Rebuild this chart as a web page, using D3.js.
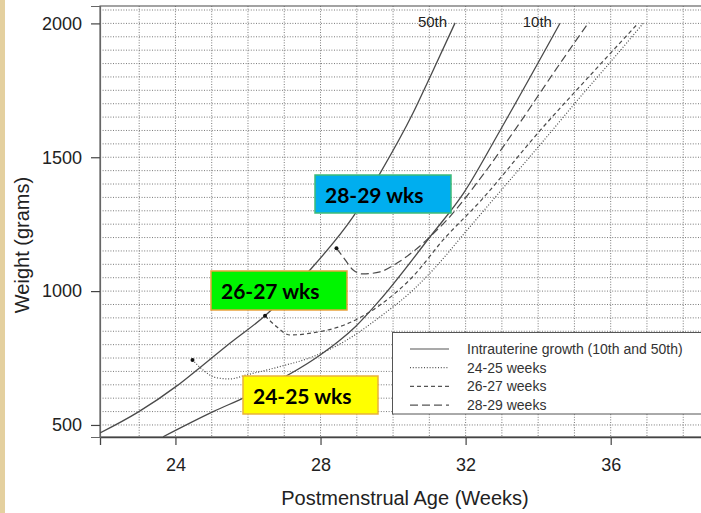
<!DOCTYPE html>
<html><head><meta charset="utf-8">
<script src="https://cdn.jsdelivr.net/npm/d3@7"></script>
<style>body{margin:0;background:#fff;overflow:hidden}</style>
</head><body>
<svg id="c" width="701" height="513"></svg>
<script>
// ---- data ----
const xTickValues = [24, 28, 32, 36];
const yTickValues = [500, 1000, 1500, 2000];
const p50Weeks = [21.92, 22.97, 24.03, 24.68, 25.50, 26.47, 27.71, 28.90, 29.64, 30.55, 31.02, 31.71];
const p50Grams = [470, 548, 645, 715, 805, 908, 1079, 1278, 1440, 1665, 1800, 2002];
const p10Weeks = [23.66, 25.04, 25.96, 27.99, 28.54, 28.96, 29.64, 31.02, 31.94, 32.95, 34.60];
const p10Grams = [456, 550, 606, 761, 817, 867, 967, 1203, 1365, 1600, 2000];
const w2425Weeks = [24.47, 24.76, 25.14, 25.50, 25.96, 26.88, 27.79, 28.72, 29.64, 30.55, 31.10, 32.03, 33.14, 34.15, 35.16, 35.99, 36.90];
const w2425Grams = [743, 705, 676, 672, 687, 718, 755, 817, 904, 1004, 1079, 1226, 1402, 1562, 1725, 1855, 2001];
const w2627Weeks = [26.47, 26.79, 27.16, 27.79, 28.72, 29.64, 30.55, 31.38, 32.40, 34.06, 35.44, 36.76];
const w2627Grams = [908, 867, 836, 844, 877, 948, 1055, 1191, 1335, 1601, 1807, 2001];
const w2829Weeks = [28.44, 28.62, 28.90, 29.17, 29.64, 30.10, 30.55, 31.02, 31.48, 32.40, 33.45, 34.50, 35.40];
const w2829Grams = [1160, 1128, 1079, 1064, 1072, 1104, 1147, 1203, 1265, 1420, 1620, 1830, 2005];
const legendLabels = ["Intrauterine growth (10th and 50th)", "24-25 weeks", "26-27 weeks", "28-29 weeks"];
const boxLabels = ["28-29 wks", "26-27 wks", "24-25 wks"];

// ---- layout ----
const svg = d3.select("#c");
const L = 100, R = 705, T = 6, B = 437;
const x = d3.scaleLinear().domain([21.92, 38.6]).range([L, R]);
const y = d3.scaleLinear().domain([455, 2065]).range([B, T]);

svg.append("rect").attr("x", 0).attr("y", 0).attr("width", 5).attr("height", 513).attr("fill", "#e4d09f");

svg.append("defs").append("clipPath").attr("id", "clip")
  .append("rect").attr("x", L).attr("y", T).attr("width", R - L).attr("height", B - T);

// grid
const vgrid = d3.range(23, 39);
const hgrid = d3.range(500, 2051, 50);
const grid = svg.append("g").attr("stroke", "#6a6a6a").attr("stroke-width", 0.9).attr("stroke-dasharray", "1,1.6");
grid.selectAll("line.v").data(vgrid).join("line").attr("class", "v")
  .attr("x1", d => x(d)).attr("x2", d => x(d)).attr("y1", T).attr("y2", B);
grid.selectAll("line.h").data(hgrid).join("line").attr("class", "h")
  .attr("x1", L).attr("x2", R).attr("y1", d => y(d)).attr("y2", d => y(d));

// frame
svg.append("rect").attr("x", L).attr("y", T).attr("width", R - L + 10).attr("height", B - T)
  .attr("fill", "none").attr("stroke", "#666").attr("stroke-width", 1.2);

// axes
const fontAxis = "'Liberation Sans', Arial, Helvetica, sans-serif";
const xAxis = svg.append("g").attr("transform", `translate(0,${B})`)
  .call(d3.axisBottom(x).tickValues(xTickValues).tickSize(8).tickPadding(13).tickFormat(d3.format("d")));
xAxis.select(".domain").attr("stroke", "#444").attr("stroke-width", 1.3);
xAxis.selectAll(".tick line").attr("stroke", "#444").attr("stroke-width", 1.2);
xAxis.selectAll("text").attr("font-family", fontAxis).attr("font-size", 18).attr("fill", "#222");

const yAxis = svg.append("g").attr("transform", `translate(${L},0)`)
  .call(d3.axisLeft(y).tickValues(yTickValues).tickSize(9).tickPadding(9).tickFormat(d3.format("d")));
yAxis.select(".domain").attr("stroke", "#666").attr("stroke-width", 1.2);
yAxis.selectAll(".tick line").attr("stroke", "#444").attr("stroke-width", 1.2);
yAxis.selectAll("text").attr("font-family", fontAxis).attr("font-size", 18).attr("fill", "#222");

svg.append("text").attr("x", 405).attr("y", 505).attr("text-anchor", "middle")
  .attr("font-family", fontAxis).attr("font-size", 20).attr("fill", "#222").text("Postmenstrual Age (Weeks)");
svg.append("text").attr("transform", "translate(29,245) rotate(-90)").attr("text-anchor", "middle")
  .attr("font-family", fontAxis).attr("font-size", 20).attr("fill", "#222").text("Weight (grams)");

// curves
const line = d3.line().x(d => x(d[0])).y(d => y(d[1])).curve(d3.curveMonotoneX);
const zip = (a, b) => a.map((v, i) => [v, b[i]]);
const series = [
  {w: p50Weeks, g: p50Grams, dash: null, dot: false},
  {w: p10Weeks, g: p10Grams, dash: null, dot: false},
  {w: w2425Weeks, g: w2425Grams, dash: "1,1.8", dot: true},
  {w: w2627Weeks, g: w2627Grams, dash: "4,3", dot: true},
  {w: w2829Weeks, g: w2829Grams, dash: "8,4", dot: true}
];
const cg = svg.append("g").attr("clip-path", "url(#clip)");
series.forEach(s => {
  cg.append("path").attr("d", line(zip(s.w, s.g))).attr("fill", "none")
    .attr("stroke", "#4a4a4a").attr("stroke-width", s.dash ? 1.2 : 1.3)
    .attr("stroke-dasharray", s.dash);
  if (s.dot) cg.append("circle").attr("cx", x(s.w[0])).attr("cy", y(s.g[0])).attr("r", 2).attr("fill", "#111");
});

// percentile labels
svg.append("text").attr("x", x(p50Weeks[p50Weeks.length - 1]) - 8).attr("y", 27).attr("text-anchor", "end")
  .attr("font-family", fontAxis).attr("font-size", 15).attr("fill", "#222").text("50th");
svg.append("text").attr("x", x(p10Weeks[p10Weeks.length - 1]) - 8).attr("y", 27).attr("text-anchor", "end")
  .attr("font-family", fontAxis).attr("font-size", 15).attr("fill", "#222").text("10th");

// legend
const lg = svg.append("g");
lg.append("rect").attr("x", 392.5).attr("y", 332.5).attr("width", 320).attr("height", 81.5)
  .attr("fill", "#fff").attr("stroke", "#555").attr("stroke-width", 1);
const legDash = [null, "1,1.8", "4,3", "8,4"];
legendLabels.forEach((t, i) => {
  const yy = 349 + i * 18.7;
  lg.append("line").attr("x1", 410).attr("x2", 449).attr("y1", yy).attr("y2", yy)
    .attr("stroke", "#555").attr("stroke-width", 1.2).attr("stroke-dasharray", legDash[i]);
  lg.append("text").attr("x", 467).attr("y", yy + 5).attr("font-family", fontAxis)
    .attr("font-size", 14).attr("fill", "#333").text(t);
});

// highlight boxes
const boxes = [
  {x0: 315, y0: 175, x1: 451, y1: 213, fill: "#00aeef", stroke: "#3dbb78"},
  {x0: 211, y0: 271, x1: 347, y1: 310, fill: "#00f500", stroke: "#e9a23b"},
  {x0: 243, y0: 376, x1: 378, y1: 414, fill: "#ffff00", stroke: "#e9b23b"}
];
boxes.forEach((b, i) => {
  svg.append("rect").attr("x", b.x0).attr("y", b.y0).attr("width", b.x1 - b.x0).attr("height", b.y1 - b.y0)
    .attr("fill", b.fill).attr("stroke", b.stroke).attr("stroke-width", 1.5);
  svg.append("text").attr("x", b.x0 + 10).attr("y", b.y0 + 28).attr("font-family", "Lato, 'Open Sans', sans-serif")
    .attr("font-weight", "bold").attr("font-size", 21).attr("fill", "#000").text(boxLabels[i]);
});
</script>
</body></html>
